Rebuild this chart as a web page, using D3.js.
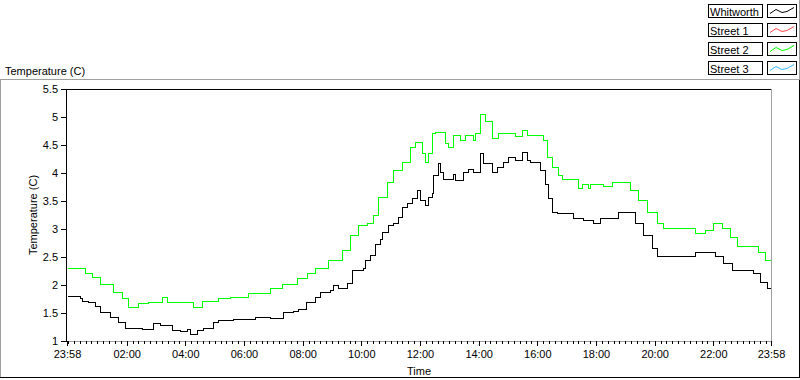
<!DOCTYPE html>
<html>
<head>
<meta charset="utf-8">
<script src="https://cdn.jsdelivr.net/npm/d3@7"></script>
<style>
  body { margin: 0; background: #fff; }
  svg { display: block; font-family: "Liberation Sans", Arial, sans-serif; font-size: 11px; }
</style>
</head>
<body>
<svg id="chart" width="800" height="380"></svg>
<script>
// legend order
const seriesNames = ['Whitworth', 'Street 1', 'Street 2', 'Street 3'];
const seriesColors = ['#000000', '#ff4848', '#00ff00', '#38b8ff'];

// logged temperatures (C), clock time of each step
const whitworthTimes = ['23:58','00:25','00:29','00:41','00:55','01:05','01:26','01:42','01:57','02:07','02:31','02:54','03:08','03:33','03:49','04:03','04:10','04:24','04:36','04:57','05:07','05:37','05:56','06:22','06:53','07:20','07:40','07:50','08:07','08:25','08:35','08:56','09:02','09:12','09:31','09:41','10:04','10:07','10:18','10:28','10:38','10:42','10:55','11:05','11:15','11:23','11:34','11:44','11:54','12:00','12:10','12:16','12:25','12:27','12:37','12:41','12:47','13:07','13:12','13:28','13:38','13:49','14:03','14:09','14:27','14:38','14:50','15:00','15:14','15:29','15:39','15:45','16:06','16:16','16:22','16:30','16:40','17:13','17:34','17:54','18:08','18:45','19:20','19:36','19:55','20:05','21:23','22:04','22:20','22:38','23:21','23:36','23:50','23:58'];
const whitworthTemps = [1.80,1.76,1.71,1.69,1.63,1.52,1.42,1.34,1.24,1.23,1.21,1.32,1.29,1.20,1.17,1.21,1.12,1.20,1.23,1.34,1.37,1.39,1.40,1.42,1.41,1.52,1.53,1.58,1.70,1.79,1.88,1.91,2.00,1.94,2.03,2.27,2.30,2.45,2.54,2.74,2.83,2.95,3.07,3.10,3.22,3.40,3.46,3.55,3.70,3.52,3.43,3.58,3.64,3.96,4.17,4.02,3.89,3.99,3.88,4.02,4.08,4.02,4.35,4.17,4.02,4.11,4.20,4.28,4.23,4.38,4.23,4.20,4.05,3.81,3.55,3.31,3.28,3.19,3.16,3.10,3.19,3.30,3.10,2.89,2.66,2.51,2.59,2.51,2.39,2.27,2.21,2.06,1.94,1.82];

const street1Times = [];
const street1Temps = [];

const street2Times = ['23:58','00:35','00:49','01:05','01:32','01:50','02:03','02:23','02:44','03:12','03:22','03:43','04:16','04:34','05:07','05:31','06:08','06:53','07:18','07:48','08:09','08:25','08:52','09:20','09:37','09:53','10:12','10:24','10:34','10:53','11:05','11:23','11:40','11:50','12:04','12:10','12:16','12:25','12:31','12:51','12:57','13:07','13:22','13:32','13:49','13:53','14:03','14:13','14:27','14:40','15:14','15:29','15:39','16:12','16:20','16:30','16:42','16:51','17:23','17:31','17:44','17:48','18:14','18:33','19:10','19:26','19:44','20:05','20:17','21:23','21:43','21:59','22:18','22:34','22:49','23:31','23:46','23:58'];
const street2Temps = [2.30,2.21,2.14,2.02,1.88,1.76,1.61,1.67,1.70,1.79,1.70,1.69,1.61,1.71,1.76,1.79,1.85,1.94,2.01,2.12,2.21,2.30,2.45,2.63,2.89,3.07,3.10,3.25,3.58,3.84,4.05,4.20,4.47,4.56,4.35,4.20,4.35,4.71,4.74,4.53,4.47,4.68,4.59,4.68,4.59,4.71,5.06,4.92,4.62,4.71,4.66,4.77,4.68,4.59,4.29,4.11,3.96,3.90,3.73,3.81,3.73,3.81,3.76,3.84,3.70,3.52,3.31,3.10,3.01,2.92,2.98,3.10,3.01,2.86,2.70,2.59,2.45,2.34];

const street3Times = [];
const street3Temps = [];

// axis ticks
const yTicks = [1, 1.5, 2, 2.5, 3, 3.5, 4, 4.5, 5, 5.5];
const xTickLabels = ['23:58','02:00','04:00','06:00','08:00','10:00','12:00','14:00','16:00','18:00','20:00','22:00','23:58'];

// clock strings -> dates, rolling to the next day when the clock goes back
function toDates(times) {
  let day = 0, prev = -1;
  return times.map(s => {
    const p = s.split(':');
    const m = +p[0] * 60 + +p[1];
    if (m < prev) day++;
    prev = m;
    return new Date(2011, 4, 1 + day, Math.floor(m / 60), m % 60);
  });
}

const margin = {left: 67, right: 771, top: 89, bottom: 341};
const svg = d3.select('#chart');

const xDates = toDates(xTickLabels);
const x = d3.scaleTime()
    .domain([xDates[0], xDates[xDates.length - 1]])
    .range([margin.left, margin.right]);
const y = d3.scaleLinear()
    .domain([1, 5.5])
    .range([margin.bottom, margin.top]);

// frames
function hline(x1, x2, yy, color) {
  svg.append('line').attr('x1', x1).attr('x2', x2).attr('y1', yy).attr('y2', yy)
    .attr('stroke', color).attr('shape-rendering', 'crispEdges');
}
function vline(xx, y1, y2, color) {
  svg.append('line').attr('x1', xx).attr('x2', xx).attr('y1', y1).attr('y2', y2)
    .attr('stroke', color).attr('shape-rendering', 'crispEdges');
}
// outer panel
hline(0, 800, 79.5, '#a0a0a0');
vline(0.5, 79, 378, '#a0a0a0');
vline(799.5, 80, 378, '#000');
hline(0, 800, 377.5, '#000');
vline(799.5, 0, 79, '#a0a0a0');

svg.append('text').attr('x', 5).attr('y', 75).text('Temperature (C)');

// plot lines
svg.append('clipPath').attr('id', 'plotClip')
  .append('rect')
    .attr('x', margin.left).attr('y', margin.top - 1)
    .attr('width', margin.right - margin.left + 1)
    .attr('height', margin.bottom - margin.top + 2);

const line = d3.line()
    .x(d => x(d.t))
    .y(d => y(d.v))
    .curve(d3.curveStepAfter);

const allTimes = [whitworthTimes, street1Times, street2Times, street3Times];
const allTemps = [whitworthTemps, street1Temps, street2Temps, street3Temps];

const plot = svg.append('g').attr('clip-path', 'url(#plotClip)');
for (let i = 0; i < seriesNames.length; i++) {
  const dates = toDates(allTimes[i]);
  const data = dates.map((t, j) => ({t: t, v: allTemps[i][j]}));
  if (!data.length) continue;
  plot.append('path')
    .datum(data)
    .attr('d', line)
    .attr('transform', 'translate(0.5,0.5)')
    .attr('fill', 'none')
    .attr('stroke', seriesColors[i])
    .attr('stroke-width', 1)
    .attr('shape-rendering', 'crispEdges');
}

// plot borders
hline(margin.left - 1, margin.right + 1, margin.top + 0.5, '#000');
vline(margin.left - 0.5, margin.top, margin.bottom + 1, '#000');
vline(margin.right + 0.5, margin.top, margin.bottom + 1, '#a0a0a0');
hline(margin.left, margin.right + 1, margin.bottom + 0.5, '#a0a0a0');

// y axis
const yAxis = svg.append('g')
    .attr('transform', 'translate(' + (margin.left - 1) + ',0)')
    .call(d3.axisLeft(y).tickValues(yTicks).tickSize(5).tickPadding(3).tickFormat(d3.format('~g')));
yAxis.select('.domain').remove();

// x axis, minor ticks every 12 min
const xMinor = svg.append('g')
    .attr('transform', 'translate(0,' + margin.bottom + ')')
    .call(d3.axisBottom(x).ticks(d3.timeMinute.every(12)).tickSize(3).tickFormat(''));
xMinor.select('.domain').remove();

const xAxis = svg.append('g')
    .attr('transform', 'translate(0,' + margin.bottom + ')')
    .call(d3.axisBottom(x).tickValues(xDates).tickSize(5).tickPadding(4)
      .tickFormat((d, i) => xTickLabels[i]));
xAxis.select('.domain').remove();

svg.selectAll('.tick line').attr('shape-rendering', 'crispEdges');
[yAxis, xAxis, xMinor].forEach(g => g.attr('font-size', null).attr('font-family', null).attr('color', '#000'));

// axis titles
svg.append('text')
  .attr('x', (margin.left + margin.right) / 2).attr('y', 375)
  .attr('text-anchor', 'middle')
  .text('Time');
svg.append('text')
  .attr('transform', 'translate(37,215) rotate(-90)')
  .attr('text-anchor', 'middle')
  .text('Temperature (C)');

// legend
const legend = svg.append('g');
seriesNames.forEach((name, i) => {
  const top = 4.5 + i * 19;
  legend.append('rect')
    .attr('x', 708.5).attr('y', top).attr('width', 54).attr('height', 13)
    .attr('fill', '#fff').attr('stroke', '#000').attr('shape-rendering', 'crispEdges');
  legend.append('text').attr('x', 710).attr('y', top + 11).text(name);
  legend.append('rect')
    .attr('x', 767.5).attr('y', top).attr('width', 29).attr('height', 13)
    .attr('fill', '#fff').attr('stroke', '#000').attr('shape-rendering', 'crispEdges');
  legend.append('path')
    .attr('d', d3.line()([[770, top + 9], [776, top + 5], [782, top + 8], [787, top + 7], [794, top + 3]]))
    .attr('fill', 'none')
    .attr('stroke', seriesColors[i]);
});
</script>
</body>
</html>
